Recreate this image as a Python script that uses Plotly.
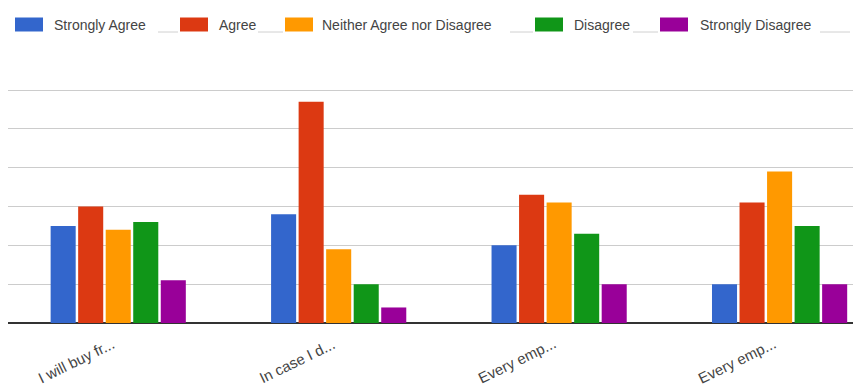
import plotly.graph_objects as go

# Survey responses per statement (counts)
categories = ["I will buy fr...", "In case I d...", "Every emp...", "Every emp... "]
series_names = ["Strongly Agree", "Agree", "Neither Agree nor Disagree", "Disagree", "Strongly Disagree"]
strongly_agree = [25, 28, 20, 10]
agree = [30, 57, 33, 31]
neutral = [24, 19, 31, 39]
disagree = [26, 10, 23, 25]
strongly_disagree = [11, 4, 10, 10]
series_values = [strongly_agree, agree, neutral, disagree, strongly_disagree]
colors = ["#3366CC", "#DC3912", "#FF9900", "#109618", "#990099"]

W, H = 853, 389
L, R, T, B = 8, 0, 89, 66
PW, PH = W - L - R, H - T - B
Y_TOP = 60.26


def px_x(x):
    return (x - L) / PW


def px_y(y):
    return (H - B - y) / PH


fig = go.Figure()
for name, vals, col in zip(series_names, series_values, colors):
    fig.add_trace(go.Bar(
        x=categories, y=vals, name=name, marker=dict(color=col, line=dict(width=0)),
        showlegend=False,
    ))

# Legend drawn as swatches + labels across the top
legend_swatch_x = [15, 180, 285, 535, 660]
legend_text_x = [52, 217, 320, 572, 698]
legend_rule = [(158, 178), (258, 283), (510, 533), (633, 658), (820, 850)]
shapes = []
annotations = []
for sx, tx, name, col in zip(legend_swatch_x, legend_text_x, series_names, colors):
    shapes.append(dict(type="rect", xref="paper", yref="paper",
                       x0=px_x(sx), x1=px_x(sx + 28), y0=px_y(31.5), y1=px_y(17.5),
                       fillcolor=col, line=dict(width=0), layer="above"))
    annotations.append(dict(text=name, xref="paper", yref="paper",
                            x=px_x(tx), y=px_y(24.5), xanchor="left", yanchor="middle",
                            showarrow=False, font=dict(size=14, color="#444444")))
for a, b in legend_rule:
    shapes.append(dict(type="line", xref="paper", yref="paper",
                       x0=px_x(a), x1=px_x(b), y0=px_y(32), y1=px_y(32),
                       line=dict(color="#d0d0d0", width=1)))

# Slanted category labels hanging below the baseline
for cat in categories:
    annotations.append(dict(text=cat.strip(), x=cat, xref="x", y=0, yref="y",
                            xanchor="right", yanchor="top", textangle=-26,
                            xshift=2, yshift=-9, showarrow=False,
                            font=dict(size=15, color="#444444")))

fig.update_layout(
    width=W, height=H,
    margin=dict(l=L, r=R, t=T, b=B, pad=0),
    paper_bgcolor="white", plot_bgcolor="white",
    barmode="group", bargap=0.3755, bargroupgap=0.09,
    font=dict(family="Liberation Sans, Arial, sans-serif", color="#444444"),
    shapes=shapes, annotations=annotations,
    xaxis=dict(range=[-0.5, 3.333], showgrid=False, showline=False, zeroline=False,
               showticklabels=False, ticks="", fixedrange=True),
    yaxis=dict(range=[0, Y_TOP], dtick=10, showgrid=True, gridcolor="#cccccc", gridwidth=1,
               zeroline=True, zerolinecolor="#333333", zerolinewidth=1.5,
               showticklabels=False, ticks="", showline=False, fixedrange=True),
)

fig.write_html("out.html")
